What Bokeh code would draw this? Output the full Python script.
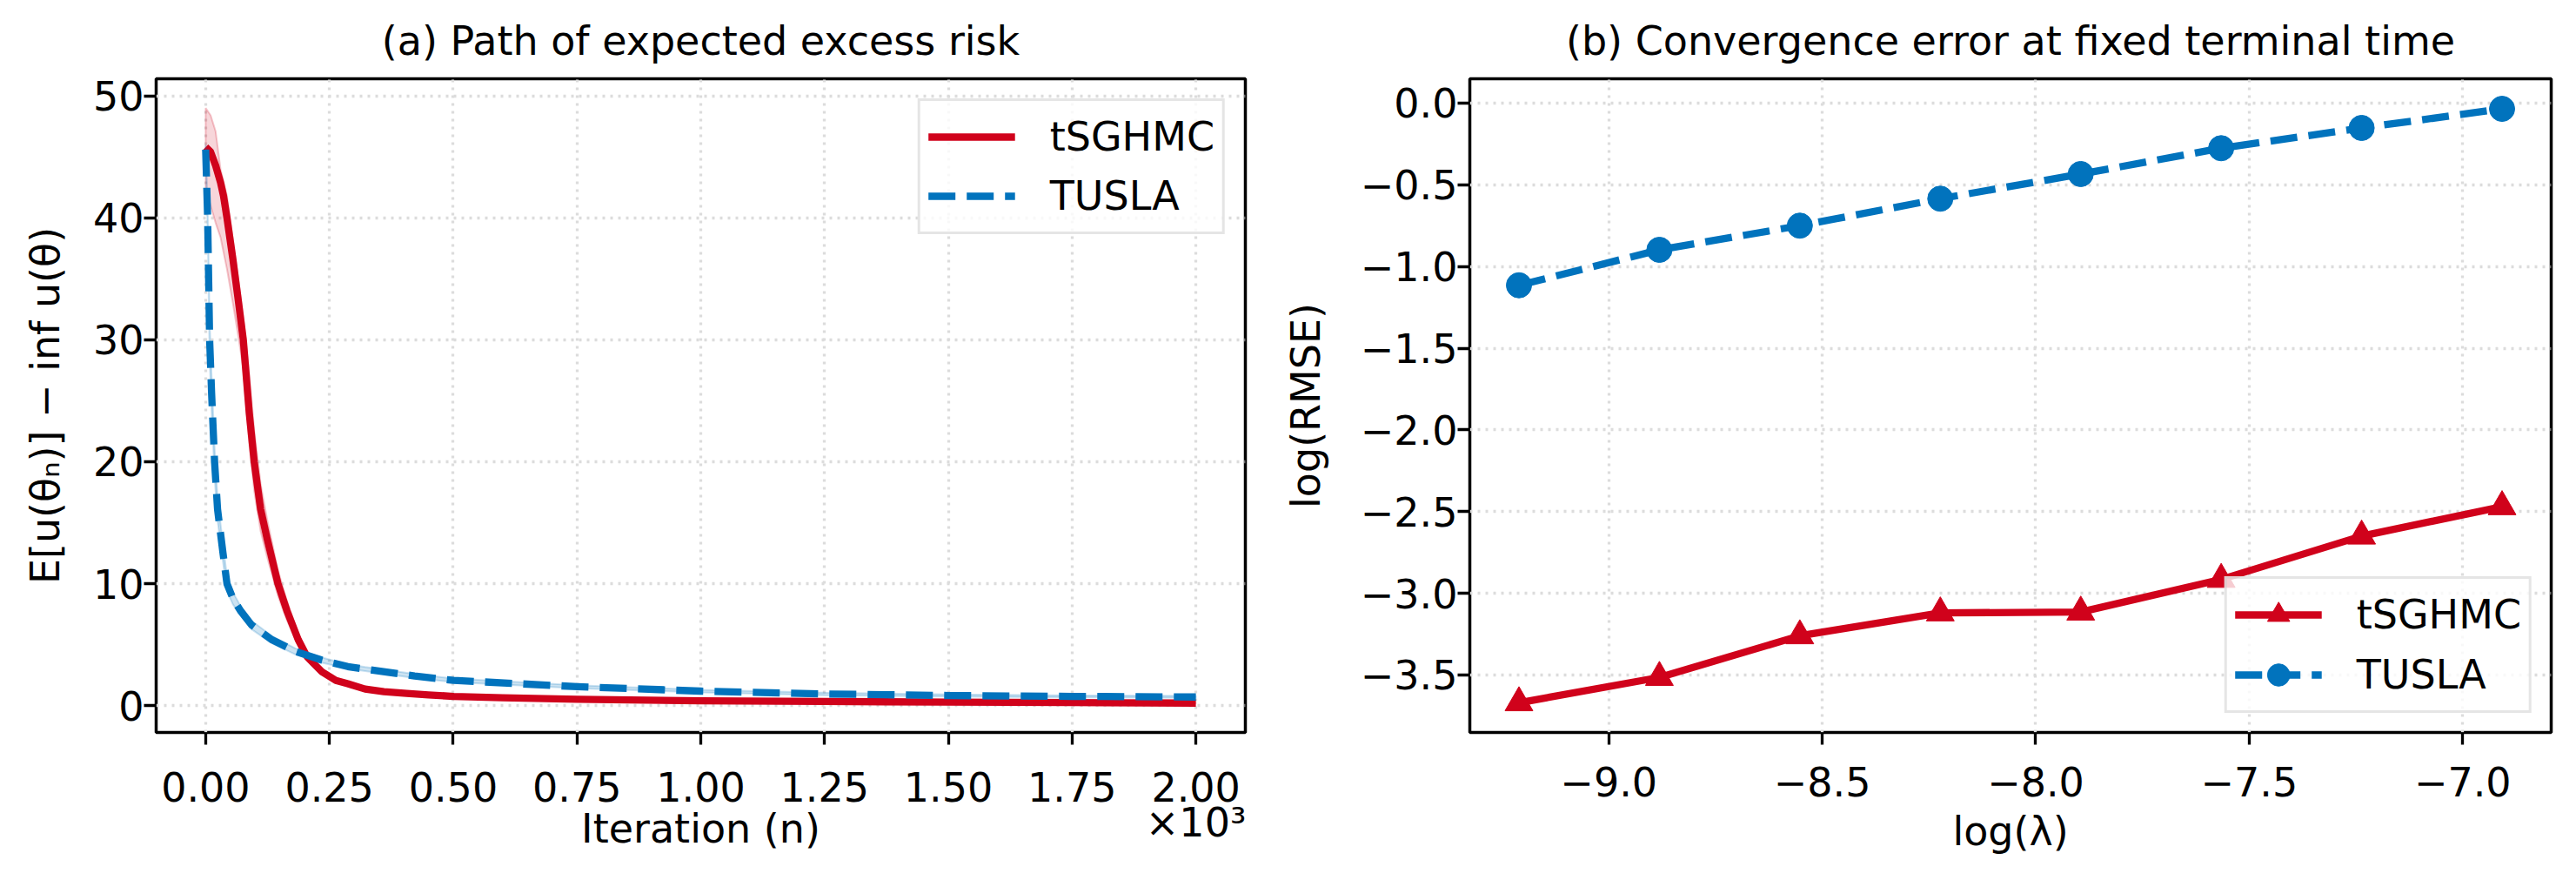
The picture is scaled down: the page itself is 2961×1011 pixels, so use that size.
from bokeh.plotting import figure
from bokeh.layouts import row
from bokeh.models import (Range1d, FixedTicker, CustomJSTickFormatter, Legend,
                          LegendItem)
from bokeh.embed import file_html
from bokeh.resources import INLINE

# ---------------- Panel (a): path of expected excess risk ----------------
iter_tsghmc = [0, 10, 20, 30, 36, 43, 55, 65, 76, 88, 98, 111, 124, 146, 164, 187,
               205, 234, 263, 287, 322, 360, 406, 450, 501, 600, 751, 1000, 1250,
               1500, 1750, 2000]
risk_tsghmc = [45.8, 45.4, 44.3, 42.9, 41.8, 40.0, 36.6, 33.5, 30.0, 24.0, 20.0, 16.1,
               13.7, 10.0, 7.8, 5.4, 4.0, 2.8, 2.07, 1.8, 1.36, 1.15, 1.0, 0.88, 0.76,
               0.64, 0.52, 0.40, 0.34, 0.29, 0.25, 0.21]
risk_tsghmc_upper = [49.0, 48.4, 47.1, 44.0, 43.0, 41.8, 38.2, 35.2, 31.8, 27.2, 22.6,
                     18.2, 15.3, 11.1, 8.6, 5.9, 4.35, 3.0, 2.2, 1.9, 1.43, 1.2, 1.05,
                     0.92, 0.8, 0.67, 0.55, 0.43, 0.36, 0.31, 0.27, 0.23]
risk_tsghmc_lower = [42.4, 41.0, 39.6, 38.4, 37.2, 35.8, 33.0, 30.5, 27.6, 21.5, 17.6,
                     14.3, 12.2, 9.0, 7.0, 4.95, 3.7, 2.62, 1.95, 1.7, 1.29, 1.1, 0.95,
                     0.84, 0.72, 0.61, 0.49, 0.37, 0.32, 0.27, 0.23, 0.19]

iter_tusla = [0, 4, 8, 12, 18, 24, 35, 43, 55, 70, 93, 134, 181, 234, 287, 322, 422,
              501, 751, 1000, 1250, 1500, 1750, 2000]
risk_tusla = [45.6, 40.0, 30.0, 25.6, 20.0, 16.1, 12.5, 10.0, 8.8, 7.8, 6.6, 5.4, 4.45,
              3.74, 3.2, 3.0, 2.43, 2.07, 1.55, 1.19, 0.96, 0.83, 0.76, 0.71]
risk_tusla_upper = [46.0, 41.0, 31.5, 27.0, 21.2, 17.0, 13.2, 10.6, 9.3, 8.2, 6.95, 5.7,
                    4.7, 3.95, 3.38, 3.17, 2.6, 2.22, 1.68, 1.3, 1.06, 0.92, 0.84, 0.79]
risk_tusla_lower = [45.2, 39.0, 28.5, 24.2, 18.8, 15.2, 11.8, 9.4, 8.3, 7.4, 6.25, 5.1,
                    4.2, 3.53, 3.02, 2.83, 2.26, 1.92, 1.42, 1.08, 0.86, 0.74, 0.68, 0.63]

a_xticks = [0, 250, 500, 750, 1000, 1250, 1500, 1750, 2000]
a_yticks = [0, 10, 20, 30, 40, 50]
a_offset_text = "×10³"

# ---------------- Panel (b): convergence error ----------------
log_lambda = [-9.2103, -8.8814, -8.5525, -8.2235, -7.8946, -7.5657, -7.2367, -6.9078]
log_rmse_tsghmc = [-3.67, -3.515, -3.26, -3.12, -3.115, -2.915, -2.65, -2.47]
log_rmse_tusla = [-1.115, -0.898, -0.75, -0.585, -0.434, -0.276, -0.152, -0.035]

b_xticks = [-9.0, -8.5, -8.0, -7.5, -7.0]
b_yticks = [0.0, -0.5, -1.0, -1.5, -2.0, -2.5, -3.0, -3.5]

RED = "#d0021b"
BLUE = "#0173bd"
FONT = "DejaVu Sans"
FS = "46px"


def style(p, xticks, yticks, xfmt, yfmt):
    p.background_fill_color = "white"
    p.border_fill_color = "white"
    p.outline_line_color = "black"
    p.outline_line_width = 3.5
    p.title.text_font = FONT
    p.title.text_font_size = FS
    p.title.text_font_style = "normal"
    p.title.text_color = "black"
    p.title.align = "center"
    p.title.standoff = 34
    for ax, t, f in ((p.xaxis, xticks, xfmt), (p.yaxis, yticks, yfmt)):
        ax.ticker = FixedTicker(ticks=t)
        ax.formatter = CustomJSTickFormatter(code=f)
        ax.axis_line_color = None
        ax.major_tick_out = 14
        ax.major_tick_in = 0
        ax.major_tick_line_width = 3.3
        ax.major_tick_line_color = "black"
        ax.minor_tick_line_color = None
        ax.major_label_text_font = FONT
        ax.major_label_text_font_size = FS
        ax.major_label_text_color = "black"
        ax.axis_label_text_font = FONT
        ax.axis_label_text_font_size = FS
        ax.axis_label_text_font_style = "normal"
        ax.axis_label_text_color = "black"
    p.xaxis.major_label_standoff = 25
    p.yaxis.major_label_standoff = 0
    p.xaxis.axis_label_standoff = 10
    p.yaxis.axis_label_standoff = 25
    p.xgrid.ticker = FixedTicker(ticks=xticks)
    p.ygrid.ticker = FixedTicker(ticks=yticks)
    for g in (p.xgrid, p.ygrid):
        g.grid_line_color = "#dcdcdc"
        g.grid_line_width = 3.3
        g.grid_line_dash = "3 6"


def style_legend(lg, spacing):
    lg.label_text_font = FONT
    lg.label_text_font_size = FS
    lg.label_text_color = "black"
    lg.border_line_color = "#cccccc"
    lg.border_line_width = 3
    lg.background_fill_color = "white"
    lg.background_fill_alpha = 0.8
    lg.padding = 9
    lg.spacing = spacing
    lg.margin = 23
    lg.glyph_width = 100
    lg.glyph_height = 64
    lg.label_standoff = 40


# ---------------- figure (a) ----------------
p1 = figure(width=1470, height=1011, x_range=Range1d(-100, 2100),
            y_range=Range1d(-2.2, 51.4), output_backend="svg",
            toolbar_location=None, min_border_left=179, min_border_right=39,
            min_border_top=89, min_border_bottom=170,
            title="(a) Path of expected excess risk")
style(p1, a_xticks, a_yticks,
      "var s = (tick/1000).toFixed(2); if (tick == %d) { s = s + '\\n' + '%s'; } return s;"
      % (a_xticks[-1], a_offset_text),
      "return tick.toFixed(0);")
p1.xaxis.major_label_standoff = 22
p1.xaxis.major_label_text_line_height = 0.75
p1.xaxis.axis_label = "Iteration (n)"
p1.xaxis.axis_label_standoff = -50
p1.yaxis.axis_label = "E[u(θₙ)] − inf u(θ)"

band_r_x = iter_tsghmc + iter_tsghmc[::-1]
band_r_y = risk_tsghmc_upper + risk_tsghmc_lower[::-1]
p1.patch(band_r_x, band_r_y, fill_color=RED, fill_alpha=0.16,
         line_color=RED, line_alpha=0.22, line_width=2)
r_red = p1.line(iter_tsghmc, risk_tsghmc, line_color=RED, line_width=8.3,
                line_join="round")

band_b_x = iter_tusla + iter_tusla[::-1]
band_b_y = risk_tusla_upper + risk_tusla_lower[::-1]
p1.patch(band_b_x, band_b_y, fill_color=BLUE, fill_alpha=0.2,
         line_color=BLUE, line_alpha=0.2, line_width=2)
r_blue = p1.line(iter_tusla, risk_tusla, line_color=BLUE, line_width=8.3,
                 line_dash="31 13", line_join="round")

lg1 = Legend(items=[LegendItem(label="tSGHMC", renderers=[r_red]),
                    LegendItem(label="TUSLA", renderers=[r_blue])],
             location="top_right")
style_legend(lg1, 4)
p1.add_layout(lg1)

# ---------------- figure (b) ----------------
p2 = figure(width=1491, height=1011, x_range=Range1d(-9.3254, -6.7927),
            y_range=Range1d(-3.852, 0.149), output_backend="svg",
            toolbar_location=None, min_border_left=212, min_border_right=29,
            min_border_top=89, min_border_bottom=170,
            title="(b) Convergence error at fixed terminal time")
style(p2, b_xticks, b_yticks,
      "return tick.toFixed(1).replace('-', '\u2212');",
      "return tick.toFixed(1).replace('-', '\u2212');")
p2.xaxis.axis_label = "log(λ)"
p2.yaxis.axis_label = "log(RMSE)"
p2.yaxis.axis_label_standoff = 33

l_red = p2.line(log_lambda, log_rmse_tsghmc, line_color=RED, line_width=8.3,
                line_join="round")
m_red = p2.scatter(log_lambda, log_rmse_tsghmc, marker="triangle", size=32,
                   fill_color=RED, line_color=RED)
l_blue = p2.line(log_lambda, log_rmse_tusla, line_color=BLUE, line_width=8.3,
                 line_dash="31 13", line_join="round")
m_blue = p2.scatter(log_lambda, log_rmse_tusla, marker="circle", size=29,
                    fill_color=BLUE, line_color=BLUE)

lg2 = Legend(items=[LegendItem(label="tSGHMC", renderers=[l_red, m_red]),
                    LegendItem(label="TUSLA", renderers=[l_blue, m_blue])],
             location="bottom_right")
style_legend(lg2, 5)
lg2.margin = 22
p2.add_layout(lg2)

layout = row(p1, p2)
open("out.html", "w").write(file_html(layout, INLINE))
